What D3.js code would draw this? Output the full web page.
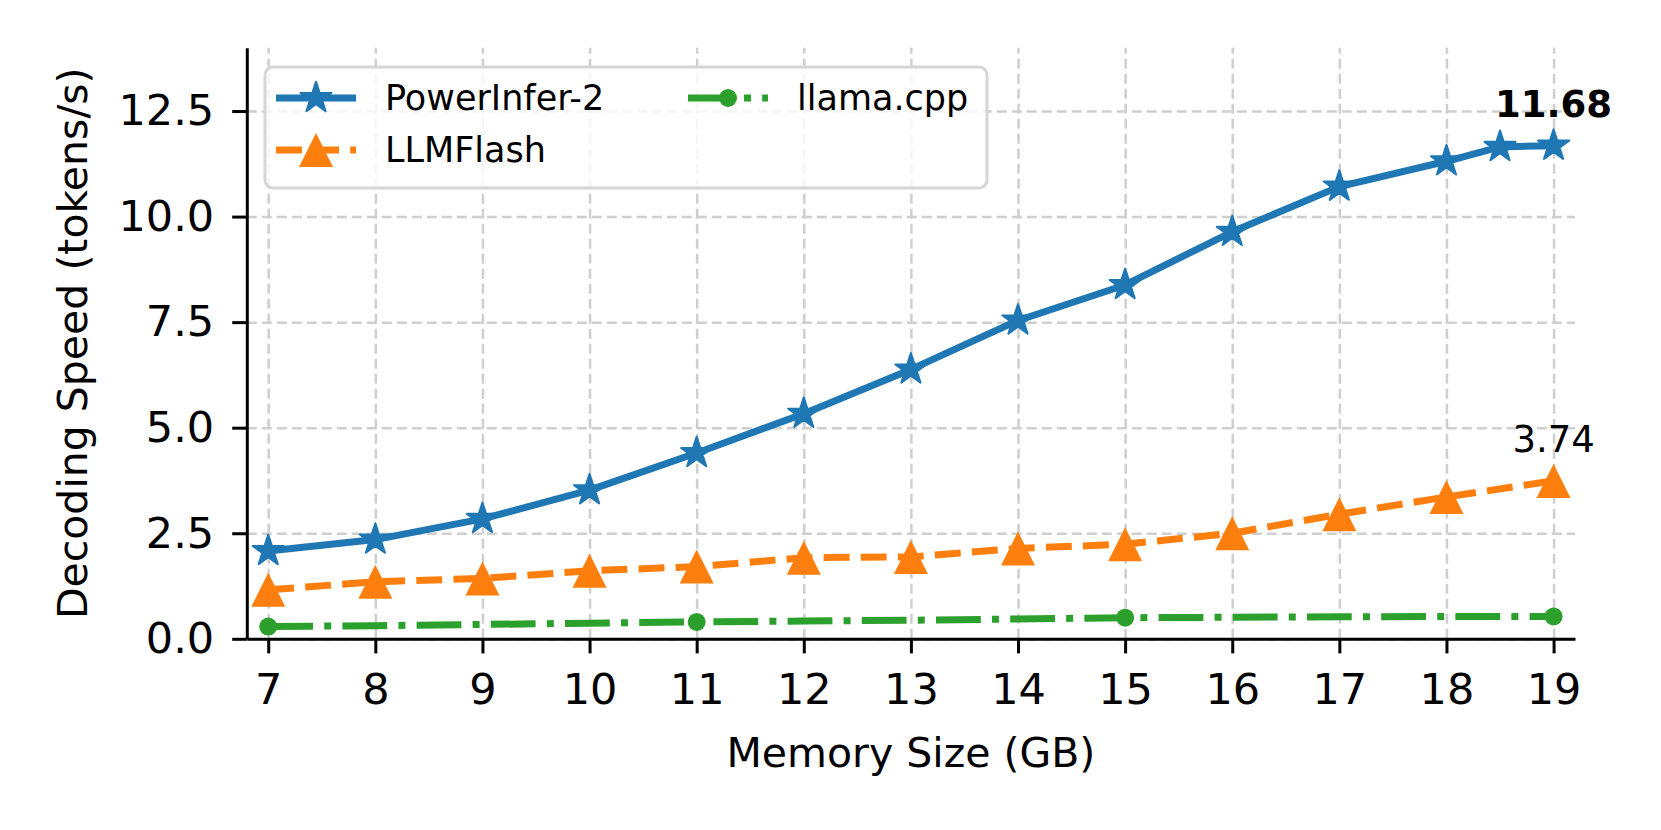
<!DOCTYPE html>
<meta charset="utf-8">

<!-- Load d3.js -->
<script src="https://d3js.org/d3.v7.min.js"></script>

<style>
  body { margin: 0; background: #fff; }
  text { font-family: "DejaVu Sans", sans-serif; fill: #000; }
</style>

<!-- Create a div where the graph will take place -->
<div id="my_dataviz"></div>

<script>

  // memory budget (GB) on the x axis
  var memSizes = [7, 8, 9, 10, 11, 12, 13, 14, 15, 16, 17, 18, 19];
  // PowerInfer-2 has one extra point at 18.5 GB
  var powerInferX = [7, 8, 9, 10, 11, 12, 13, 14, 15, 16, 17, 18, 18.5, 19];
  var powerInferY = [2.08, 2.35, 2.84, 3.52, 4.40, 5.33, 6.38, 7.54, 8.38, 9.64, 10.71, 11.31, 11.65, 11.68];
  var llmFlashY   = [1.16, 1.35, 1.43, 1.61, 1.71, 1.92, 1.94, 2.14, 2.24, 2.50, 2.95, 3.36, 3.74];
  var llamaY      = [0.29, 0.31, 0.34, 0.37, 0.40, 0.42, 0.44, 0.47, 0.50, 0.51, 0.52, 0.53, 0.53];
  var yTicks = [0, 2.5, 5, 7.5, 10, 12.5];

  // set the dimensions and margins of the graph
  var margin = {top: 47.7, right: 86, bottom: 191.2, left: 246.8},
      width = 1661 - margin.left - margin.right,
      height = 830 - margin.top - margin.bottom;

  var svg = d3.select("#my_dataviz")
    .append("svg")
      .attr("width", 1661)
      .attr("height", 830)
    .append("g")
      .attr("transform", "translate(" + margin.left + "," + margin.top + ")");

  var x = d3.scaleLinear().domain([6.8, 19.2]).range([0, width]);
  var y = d3.scaleLinear().domain([0, 14]).range([height, 0]);

  // grid
  var grid = svg.append("g");
  grid.append("g")
    .attr("transform", "translate(0," + height + ")")
    .call(d3.axisBottom(x).tickValues(memSizes).tickSize(-height).tickFormat(""));
  grid.append("g")
    .call(d3.axisLeft(y).tickValues(yTicks).tickSize(-width).tickFormat(""));
  grid.selectAll(".domain").remove();
  grid.selectAll("line")
    .attr("stroke", "#cfcfcf")
    .attr("stroke-width", 2.5)
    .attr("stroke-dasharray", "10,5");

  // axes
  var xAxis = svg.append("g")
    .attr("transform", "translate(0," + height + ")")
    .call(d3.axisBottom(x).tickValues(memSizes).tickSize(14.6).tickSizeOuter(0).tickPadding(20));
  var yAxis = svg.append("g")
    .call(d3.axisLeft(y).tickValues(yTicks).tickFormat(d3.format(".1f")).tickSize(14.6).tickSizeOuter(0).tickPadding(18));
  [xAxis, yAxis].forEach(function(a) {
    a.selectAll(".domain").attr("stroke", "#000").attr("stroke-width", 3);
    a.selectAll(".tick line").attr("stroke", "#000").attr("stroke-width", 3);
    a.selectAll("text").style("font-family", "DejaVu Sans").style("font-size", "43px").attr("fill", "#000");
  });

  // axis labels
  svg.append("text")
    .attr("x", width / 2)
    .attr("y", height + 128)
    .attr("text-anchor", "middle")
    .style("font-size", "41px")
    .text("Memory Size (GB)");
  svg.append("text")
    .attr("transform", "translate(" + (87 - margin.left) + "," + (height / 2) + ")rotate(-90)")
    .attr("text-anchor", "middle")
    .style("font-size", "41px")
    .text("Decoding Speed (tokens/s)");

  var lw = 7;
  var star = d3.symbol().type(d3.symbolStar).size(300);
  var tri = "M0,-17L-17,17L17,17Z";

  // PowerInfer-2
  var pi = powerInferX.map(function(d, i) { return [d, powerInferY[i]]; });
  svg.append("path")
    .datum(pi)
    .attr("fill", "none")
    .attr("stroke", "#1f77b4")
    .attr("stroke-width", lw)
    .attr("stroke-linejoin", "round")
    .attr("d", d3.line().x(function(d) { return x(d[0]); }).y(function(d) { return y(d[1]); }));
  svg.selectAll("pistar")
    .data(pi)
    .enter()
    .append("path")
      .attr("d", star)
      .attr("fill", "#1f77b4")
      .attr("stroke", "#1f77b4")
      .attr("stroke-width", 2)
      .attr("stroke-linejoin", "round")
      .attr("transform", function(d) { return "translate(" + x(d[0]) + "," + y(d[1]) + ")"; });

  // LLMFlash
  var lf = memSizes.map(function(d, i) { return [d, llmFlashY[i]]; });
  svg.append("path")
    .datum(lf)
    .attr("fill", "none")
    .attr("stroke", "#ff7f0e")
    .attr("stroke-width", lw)
    .attr("stroke-dasharray", (3.7 * lw) + "," + (1.6 * lw))
    .attr("d", d3.line().x(function(d) { return x(d[0]); }).y(function(d) { return y(d[1]); }));
  svg.selectAll("lftri")
    .data(lf)
    .enter()
    .append("path")
      .attr("d", tri)
      .attr("fill", "#ff7f0e")
      .attr("transform", function(d) { return "translate(" + x(d[0]) + "," + y(d[1]) + ")"; });

  // llama.cpp, marker every 4 points
  var ll = memSizes.map(function(d, i) { return [d, llamaY[i]]; });
  svg.append("path")
    .datum(ll)
    .attr("fill", "none")
    .attr("stroke", "#2ca02c")
    .attr("stroke-width", lw)
    .attr("stroke-dasharray", (6.4 * lw) + "," + (1.6 * lw) + "," + lw + "," + (1.6 * lw))
    .attr("d", d3.line().x(function(d) { return x(d[0]); }).y(function(d) { return y(d[1]); }));
  svg.selectAll("llcirc")
    .data(ll.filter(function(d, i) { return i % 4 == 0; }))
    .enter()
    .append("circle")
      .attr("cx", function(d) { return x(d[0]); })
      .attr("cy", function(d) { return y(d[1]); })
      .attr("r", 9)
      .attr("fill", "#2ca02c");

  // value labels at 19 GB
  var last = memSizes.length - 1;
  svg.append("text")
    .attr("x", x(memSizes[last]))
    .attr("y", y(powerInferY[powerInferY.length - 1]) - 29)
    .attr("text-anchor", "middle")
    .style("font-size", "37px")
    .style("font-weight", "bold")
    .text(powerInferY[powerInferY.length - 1].toFixed(2));
  svg.append("text")
    .attr("x", x(memSizes[last]))
    .attr("y", y(llmFlashY[last]) - 29)
    .attr("text-anchor", "middle")
    .style("font-size", "37px")
    .text(llmFlashY[last].toFixed(2));

  // legend (page coordinates)
  var legend = d3.select("svg").append("g");
  legend.append("rect")
    .attr("x", 265).attr("y", 67)
    .attr("width", 722).attr("height", 121)
    .attr("rx", 8)
    .attr("fill", "#fff").attr("fill-opacity", 0.8)
    .attr("stroke", "#d6d6d6").attr("stroke-width", 3);

  var items = [
    {name: "PowerInfer-2", color: "#1f77b4", x: 276, y: 98, dash: null, mark: "star"},
    {name: "LLMFlash", color: "#ff7f0e", x: 276, y: 150, dash: (3.7 * lw) + "," + (1.6 * lw), mark: "tri"},
    {name: "llama.cpp", color: "#2ca02c", x: 688, y: 98, dash: (6.4 * lw) + "," + (1.6 * lw) + "," + lw + "," + (1.6 * lw), mark: "circle"}
  ];
  items.forEach(function(it) {
    legend.append("line")
      .attr("x1", it.x).attr("x2", it.x + 80)
      .attr("y1", it.y).attr("y2", it.y)
      .attr("stroke", it.color).attr("stroke-width", lw)
      .attr("stroke-dasharray", it.dash);
    var cx = it.x + 40;
    if (it.mark == "star") {
      legend.append("path").attr("d", star).attr("fill", it.color)
        .attr("stroke", it.color).attr("stroke-width", 2).attr("stroke-linejoin", "round")
        .attr("transform", "translate(" + cx + "," + it.y + ")");
    } else if (it.mark == "tri") {
      legend.append("path").attr("d", tri).attr("fill", it.color)
        .attr("transform", "translate(" + cx + "," + it.y + ")");
    } else {
      legend.append("circle").attr("cx", cx).attr("cy", it.y).attr("r", 9).attr("fill", it.color);
    }
    legend.append("text")
      .attr("x", it.x + 109)
      .attr("y", it.y + 12)
      .style("font-size", "35px")
      .text(it.name);
  });

</script>
